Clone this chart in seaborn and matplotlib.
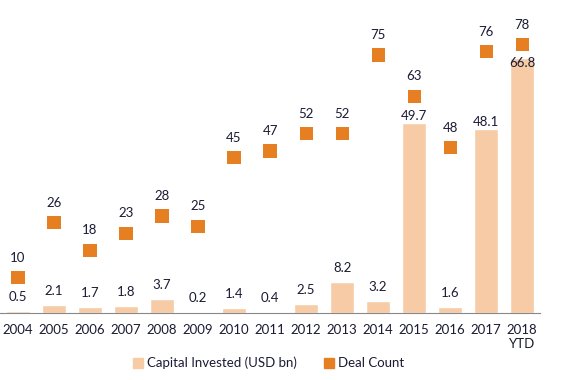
import matplotlib.pyplot as plt
import seaborn as sns
import pandas as pd
from matplotlib.lines import Line2D

years = ["2004", "2005", "2006", "2007", "2008", "2009", "2010", "2011",
         "2012", "2013", "2014", "2015", "2016", "2017", "2018\nYTD"]
capital = [0.5, 2.1, 1.7, 1.8, 3.7, 0.2, 1.4, 0.4, 2.5, 8.2, 3.2, 49.7, 1.6, 48.1, 66.8]
deals = [10, 26, 18, 23, 28, 25, 45, 47, 52, 52, 75, 63, 48, 76, 78]

bar_color = "#F6CBA6"
dot_color = "#E67E22"
text_color = "#1B1B33"

df = pd.DataFrame({"year": years, "capital": capital, "deals": deals})

sns.set_style("white")
plt.rcParams["font.family"] = ["Lato", "DejaVu Sans"]

fig = plt.figure(figsize=(5.71, 3.80), dpi=100)
ax = fig.add_axes([0.0, 0.176, 0.946, 0.80])
sns.barplot(data=df, x="year", y="capital", color=bar_color, width=0.67,
            saturation=1, ax=ax)
ax.set_ylim(0, 79.6)
ax.set_xlim(-0.5, len(years) - 0.5)

ax2 = ax.twinx()
sns.scatterplot(x=list(range(len(years))), y=deals, color=dot_color, marker="s",
                s=90, edgecolor="none", ax=ax2, zorder=3)
ax2.set_ylim(-0.34, 88.4)

# value labels
close_labels = {11: 7, 13: 7, 14: -5}
for i, v in enumerate(capital):
    off = close_labels.get(i, 14)
    ax.annotate(f"{v:.1f}", (i, v), xytext=(0, off * 0.72), textcoords="offset points",
                ha="center", va="center", fontsize=9.5, color=text_color, zorder=5)
for i, v in enumerate(deals):
    ax2.annotate(f"{v}", (i, v), xytext=(0, 20 * 0.72), textcoords="offset points",
                 ha="center", va="center", fontsize=9.5, color=text_color)

for a in (ax, ax2):
    for s in ["top", "right", "left"]:
        a.spines[s].set_visible(False)
    a.set_ylabel("")
    a.set_yticks([])
ax2.spines["bottom"].set_visible(False)
ax.spines["bottom"].set_color("#888888")
ax.set_xlabel("")
ax.tick_params(axis="x", length=0, pad=7.5, labelsize=9.5, labelcolor=text_color)

handles = [
    Line2D([], [], marker="s", linestyle="none", markersize=7.5, color=bar_color),
    Line2D([], [], marker="s", linestyle="none", markersize=7.5, color=dot_color),
]
fig.legend(handles, ["Capital Invested (USD bn)", "Deal Count"], loc="center",
           bbox_to_anchor=(0.47, 0.045), ncol=2, frameon=False, fontsize=9.5,
           handlelength=0.8, handletextpad=0.3, columnspacing=2.0, labelcolor=text_color)

fig.savefig("out.png", dpi=100)
